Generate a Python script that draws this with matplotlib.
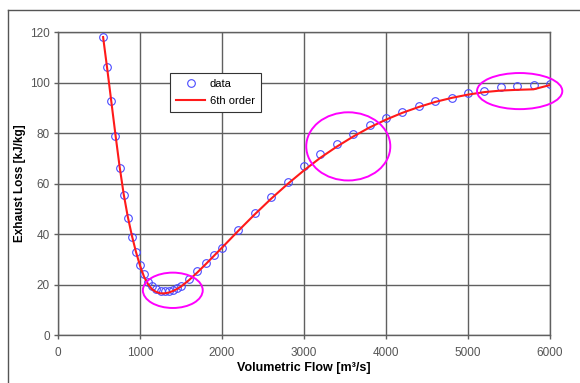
import matplotlib
matplotlib.use("Agg")
import matplotlib.pyplot as plt
from matplotlib.patches import Ellipse
from matplotlib.lines import Line2D

plt.rcParams['font.family'] = ['Liberation Sans', 'DejaVu Sans']

# Measured exhaust loss against volumetric flow
flow = [550, 600, 650, 700, 750, 800, 850, 900, 950, 1000,
        1050, 1100, 1150, 1200, 1250, 1300, 1350, 1400, 1450, 1500,
        1600, 1700, 1800, 1900, 2000, 2200, 2400, 2600, 2800, 3000,
        3200, 3400, 3600, 3800, 4000, 4200, 4400, 4600, 4800, 5000,
        5200, 5400, 5600, 5800, 6000]
loss = [118, 106, 92.5, 79, 66, 55.5, 46.4, 38.8, 32.8, 27.8,
        24.0, 21.0, 19.3, 18.2, 17.6, 17.4, 17.5, 17.9, 18.5, 19.4,
        22.0, 25.3, 28.4, 31.5, 34.6, 41.7, 48.5, 54.8, 60.4, 66.8,
        71.5, 75.5, 79.5, 83.0, 85.8, 88.5, 90.7, 92.6, 94.0, 95.8,
        96.6, 98.1, 98.5, 99.0, 99.3]

# 6th order polynomial trend line, evaluated at the same flows
fit = [118, 105.5, 92.5, 79.5, 67, 56, 47, 39.5, 33, 27.5,
       23.0, 20.0, 18.0, 17.0, 16.5, 16.5, 16.8, 17.4, 18.2, 19.2,
       21.8, 24.8, 28.0, 31.3, 34.6, 41.3, 47.8, 54.0, 59.8, 65.2,
       70.2, 74.6, 78.6, 82.2, 85.3, 88.0, 90.3, 92.3, 93.9, 95.2,
       96.2, 96.8, 97.1, 97.3, 99.0]

# Highlighted regions: (centre flow, centre loss, width, height)
highlights = [(1400, 17.7, 730, 14),
              (3540, 74.7, 1025, 27),
              (5630, 96.6, 1040, 14.3)]

x_ticks = [0, 1000, 2000, 3000, 4000, 5000, 6000]
y_ticks = [0, 20, 40, 60, 80, 100, 120]

fig = plt.figure(figsize=(5.8, 3.83), dpi=100)
ax = fig.add_axes([58/580, 48/383, 492/580, 303/383])

ax.plot(flow, loss, linestyle='none', marker='o', markersize=5.5,
        markerfacecolor='none', markeredgecolor='#4a4aff',
        markeredgewidth=0.8, label='data', zorder=3)
ax.plot(flow, fit, color='#ff1a1a', linewidth=1.5, label='6th order', zorder=4)

for cx, cy, w, h in highlights:
    ax.add_patch(Ellipse((cx, cy), w, h, fill=False, edgecolor='#ff00ff',
                         linewidth=1.4, clip_on=False, zorder=5))

ax.set_xlim(0, 6000)
ax.set_ylim(0, 120)
ax.set_xticks(x_ticks)
ax.set_yticks(y_ticks)
ax.grid(True, color='#606060', linewidth=1.0)
ax.set_axisbelow(True)
for s in ax.spines.values():
    s.set_color('#606060')
    s.set_linewidth(1.0)
ax.tick_params(axis='both', direction='out', length=3, width=1,
               color='#606060', labelsize=8.5, labelcolor='#555555', pad=3)
ax.tick_params(axis='x', pad=6)

ax.set_xlabel('Volumetric Flow [m³/s]', fontsize=9, fontweight='bold', labelpad=2)
ax.set_ylabel('Exhaust Loss [kJ/kg]', fontsize=8.5, fontweight='bold', labelpad=3)

leg = ax.legend(loc='upper left', bbox_to_anchor=(0.228, 0.865), fontsize=8,
                frameon=True, fancybox=False, framealpha=1, edgecolor='#333333',
                borderpad=0.55, borderaxespad=0, handlelength=2.6,
                handletextpad=0.4, labelspacing=0.6)
leg.get_frame().set_linewidth(0.8)

# Outer chart frame (left and top edges)
fig.add_artist(Line2D([8/580, 8/580], [0, 1 - 10/383], color='#555555', linewidth=1.0))
fig.add_artist(Line2D([8/580, 1], [1 - 10/383, 1 - 10/383], color='#555555', linewidth=1.0))

fig.savefig('out.png', dpi=100)
